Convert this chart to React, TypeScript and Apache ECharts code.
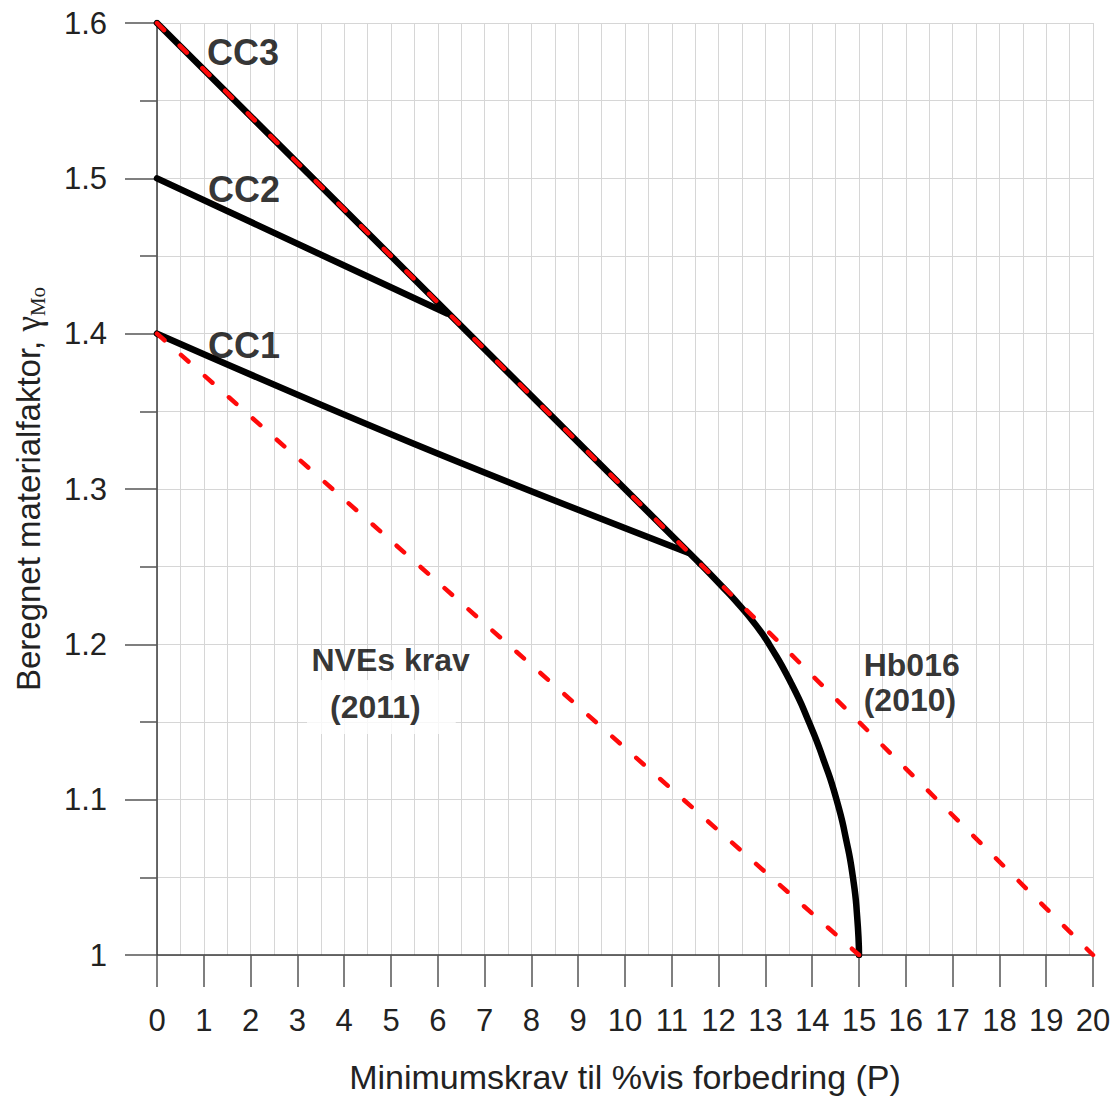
import React, { useEffect, useRef } from "react";
import * as echarts from "echarts";

// CC3 straight part of the limit line
const cc3X = [0, 11.6];
const cc3Y = [1.6, 1.252];
// Curved limit (continuation of CC3 towards P = 15)
const limitX = [11.6, 12.05, 12.42, 12.78, 13.08, 13.55, 13.93, 14.25, 14.52, 14.72, 14.87, 14.96, 15.0];
const limitY = [1.252, 1.238, 1.226, 1.213, 1.2, 1.175, 1.15, 1.125, 1.1, 1.075, 1.05, 1.025, 1.0];
// CC2
const cc2X = [0, 6.2];
const cc2Y = [1.5, 1.413];
// CC1
const cc1X = [0, 5.5, 11.35];
const cc1Y = [1.4, 1.329, 1.259];
// NVEs krav (2011)
const nveX = [0, 15];
const nveY = [1.4, 1.0];
// Hb016 (2010)
const hbX = [0, 20];
const hbY = [1.6, 1.0];

const xTickLabels = ["0","1","2","3","4","5","6","7","8","9","10","11","12","13","14","15","16","17","18","19","20"];
const yTickLabels = ["1", "1.1", "1.2", "1.3", "1.4", "1.5", "1.6"];

const annoText = ["CC3", "CC2", "CC1", "NVEs krav", "(2011)", "Hb016", "(2010)"];
const annoX = [1.07, 1.09, 1.09, 3.3, 3.205, 15.1, 15.1];
const annoY = [1.581, 1.493, 1.3925, 1.19, 1.1596, 1.187, 1.164];

const zip = (xs: number[], ys: number[]) => xs.map((x, i) => [x, ys[i]]);

export default function App() {
  const ref = useRef<HTMLDivElement>(null);
  useEffect(() => {
    if (!ref.current) return;
    const chart = echarts.init(ref.current, null, { renderer: "svg" });
    const grid = "#d6d6d6";
    const axisCol = "#3a3a3a";
    const sans = "Liberation Sans, Arial, sans-serif";
    const serif = "Liberation Serif, Times New Roman, serif";
    const blackLine = (name: string, data: number[][], smooth: number | boolean) => ({
      name,
      type: "line",
      data,
      smooth,
      showSymbol: false,
      symbol: "none",
      lineStyle: { color: "#000", width: 6.5, cap: "round", join: "round" },
      z: 3,
    });
    const redLine = (name: string, data: number[][]) => ({
      name,
      type: "line",
      data,
      showSymbol: false,
      symbol: "none",
      lineStyle: { color: "#ff0a0a", width: 4.5, type: [10, 22], cap: "round" },
      z: 4,
    });
    const annoData = annoText.map((t, i) => {
      const isCC = i < 3;
      return {
        value: [annoX[i], annoY[i]],
        label: {
          show: true,
          position: "right",
          distance: 0,
          formatter: t,
          fontFamily: sans,
          fontWeight: "bold",
          fontSize: isCC ? 36 : 32,
          color: "#000",
          textBorderWidth: 0,
          ...(t === "(2011)"
            ? { backgroundColor: "#fff", padding: [11, 35, 11, 23] }
            : {}),
        },
      };
    });
    chart.setOption({
      animation: false,
      backgroundColor: "#fff",
      grid: { left: 157, right: 24, top: 23, bottom: 141, containLabel: false },
      xAxis: {
        type: "value",
        min: 0,
        max: 20,
        interval: 1,
        name: "Minimumskrav til %vis forbedring (P)",
        nameLocation: "middle",
        nameGap: 103,
        nameTextStyle: { fontFamily: sans, fontSize: 34, color: "#222", lineHeight: 38 },
        axisLine: { show: true, onZero: false, lineStyle: { color: axisCol, width: 1.5 } },
        axisTick: { show: true, length: 32, lineStyle: { color: "#555", width: 1.5 } },
        minorTick: { show: false, splitNumber: 2 },
        axisLabel: {
          margin: 50,
          fontFamily: sans,
          fontSize: 31,
          color: "#222",
          formatter: (v: number) => xTickLabels[Math.round(v)] ?? "",
        },
        splitLine: { show: true, lineStyle: { color: grid, width: 1 } },
        minorSplitLine: { show: true, lineStyle: { color: grid, width: 1 } },
      },
      yAxis: {
        type: "value",
        min: 1,
        max: 1.6,
        interval: 0.1,
        name: "{t|Beregnet materialfaktor, }{g|γ}{s|Mo}",
        nameLocation: "middle",
        nameRotate: 90,
        nameGap: 109,
        nameTextStyle: {
          rich: {
            t: { fontFamily: sans, fontSize: 33, color: "#222", lineHeight: 40 },
            g: { fontFamily: serif, fontSize: 35, color: "#222", lineHeight: 40 },
            s: { fontFamily: serif, fontSize: 21, color: "#222", lineHeight: 20, verticalAlign: "bottom" },
          },
        },
        axisLine: { show: true, lineStyle: { color: axisCol, width: 1.5 } },
        axisTick: { show: true, length: 32, lineStyle: { color: "#555", width: 1.5 } },
        minorTick: { show: true, splitNumber: 2, length: 17, lineStyle: { color: "#555", width: 1.5 } },
        axisLabel: {
          margin: 50,
          fontFamily: sans,
          fontSize: 31,
          color: "#222",
          formatter: (v: number) => yTickLabels[Math.round((v - 1) * 10)] ?? "",
        },
        splitLine: { show: true, lineStyle: { color: grid, width: 1 } },
        minorSplitLine: { show: true, lineStyle: { color: grid, width: 1 } },
      },
      series: [
        blackLine("CC1", zip(cc1X, cc1Y), 0.4),
        blackLine("CC2", zip(cc2X, cc2Y), false),
        blackLine("CC3", zip(cc3X, cc3Y), false),
        blackLine("Grensekurve", zip(limitX, limitY), 0.6),
        redLine("NVEs krav (2011)", zip(nveX, nveY)),
        redLine("Hb016 (2010)", zip(hbX, hbY)),
        {
          name: "labels",
          type: "scatter",
          symbolSize: 0,
          data: annoData,
          z: 10,
          silent: true,
        },
      ],
    });
    return () => chart.dispose();
  }, []);
  return (
    <div
      ref={ref}
      style={{ position: "absolute", left: 0, top: 0, width: 1117, height: 1101, background: "#fff" }}
    />
  );
}
